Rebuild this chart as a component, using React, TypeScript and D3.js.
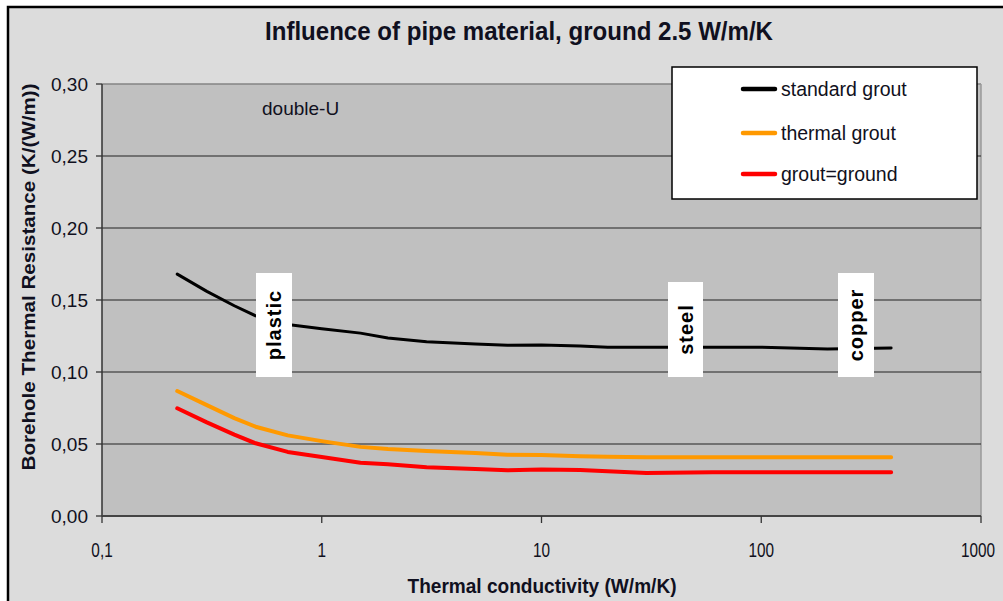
import React from "react";
import * as d3 from "d3";

const conductivity = [0.22, 0.3, 0.4, 0.5, 0.7, 1, 1.5, 2, 3, 5, 7, 10, 15, 20, 30, 60, 100, 150, 200, 390];
const standardGrout = [0.168, 0.156, 0.146, 0.139, 0.133, 0.13, 0.127, 0.1236, 0.121, 0.1195, 0.1185, 0.1188, 0.118, 0.1172, 0.1172, 0.1172, 0.1172, 0.1165, 0.116, 0.1167];
const thermalGrout = [0.0868, 0.077, 0.068, 0.062, 0.056, 0.052, 0.048, 0.0465, 0.0451, 0.0437, 0.0425, 0.0424, 0.0415, 0.0412, 0.0408, 0.0408, 0.0408, 0.0408, 0.0408, 0.0408];
const groutGround = [0.0748, 0.065, 0.0565, 0.0505, 0.0445, 0.041, 0.037, 0.036, 0.0338, 0.0326, 0.0318, 0.0323, 0.032, 0.031, 0.0298, 0.0303, 0.0303, 0.0303, 0.0303, 0.0303];

const seriesNames = ["standard grout", "thermal grout", "grout=ground"];
const seriesColors = ["#000000", "#ff9900", "#ff0000"];
const seriesWidths = [3, 4, 4];
const seriesValues = [standardGrout, thermalGrout, groutGround];

const yTicks = [0, 0.05, 0.1, 0.15, 0.2, 0.25, 0.3];
const xTicks = [0.1, 1, 10, 100, 1000];
const xTickLabels = ["0,1", "1", "10", "100", "1000"];

const materials = ["plastic", "steel", "copper"];

const W = 1003;
const H = 601;
const left = 102;
const right = 981;
const top = 84;
const bottom = 516;

export default function App() {
  const x = d3.scaleLog().domain([0.1, 1000]).range([left, right]);
  const y = d3.scaleLinear().domain([0, 0.3]).range([bottom, top]);
  const fmt = (v: number) => v.toFixed(2).replace(".", ",");
  const line = d3
    .line<number>()
    .x((_, i) => x(conductivity[i]))
    .y((d) => y(d));

  const narrow = "'Liberation Sans Narrow', 'Arial Narrow', 'Liberation Sans', Arial, sans-serif";
  const sans = "'Liberation Sans', Arial, sans-serif";
  const textColor = "#101020";

  const boxes = [
    { cx: 274, cy: 325, h: 104, w: 36 },
    { cx: 685.5, cy: 329.5, h: 95, w: 35 },
    { cx: 856, cy: 325, h: 104, w: 36 },
  ];

  return (
    <svg
      width={W}
      height={H}
      style={{ position: "absolute", left: 0, top: 0, background: "#fff" }}
    >
      <rect x={8} y={7} width={W} height={H} fill="#dcdcdc" stroke="#000" strokeWidth={2.5} />
      <text
        x={519}
        y={40}
        textAnchor="middle"
        fontFamily={narrow}
        fontWeight="bold"
        fontSize={25}
        fill={textColor}
        textLength={508}
        lengthAdjust="spacingAndGlyphs"
      >
        Influence of pipe material, ground 2.5 W/m/K
      </text>

      <rect x={left} y={top} width={right - left} height={bottom - top} fill="#c0c0c0" />
      <line x1={left} x2={right} y1={top} y2={top} stroke="#858585" strokeWidth={1.5} />
      <line x1={right} x2={right} y1={top} y2={bottom} stroke="#9a9a9a" strokeWidth={1.5} />
      {yTicks.slice(1, -1).map((t) => (
        <line key={t} x1={left} x2={right} y1={y(t)} y2={y(t)} stroke="#222" strokeWidth={1.2} />
      ))}

      {/* y axis */}
      <line x1={left} x2={left} y1={top} y2={bottom} stroke="#333" strokeWidth={1.5} />
      {yTicks.map((t) => (
        <g key={t}>
          <line x1={left - 6} x2={left} y1={y(t)} y2={y(t)} stroke="#333" strokeWidth={1.3} />
          <text
            x={88}
            y={y(t)}
            dy="0.36em"
            textAnchor="end"
            fontFamily={sans}
            fontSize={19}
            fill={textColor}
          >
            {fmt(t)}
          </text>
        </g>
      ))}

      {/* x axis */}
      <line x1={left} x2={right} y1={bottom} y2={bottom} stroke="#444" strokeWidth={2} />
      {xTicks.map((t, i) => {
        const last = i === xTicks.length - 1;
        return (
          <g key={t}>
            <line x1={x(t)} x2={x(t)} y1={bottom} y2={bottom + 7} stroke="#333" strokeWidth={1.3} />
            <text
              transform={`translate(${last ? x(t) - 3 : x(t)},557) scale(0.73,1)`}
              textAnchor="middle"
              fontFamily={sans}
              fontSize={21}
              fill={textColor}
            >
              {xTickLabels[i]}
            </text>
          </g>
        );
      })}
      <text
        x={542}
        y={593}
        textAnchor="middle"
        fontFamily={narrow}
        fontWeight="bold"
        fontSize={21}
        fill={textColor}
        textLength={269}
        lengthAdjust="spacingAndGlyphs"
      >
        Thermal conductivity (W/m/K)
      </text>
      <text
        transform="translate(29,277) rotate(-90)"
        x={0}
        y={0}
        dy="0.35em"
        textAnchor="middle"
        fontFamily={sans}
        fontWeight="bold"
        fontSize={18.5}
        fill={textColor}
        textLength={387}
        lengthAdjust="spacingAndGlyphs"
      >
        Borehole Thermal Resistance (K/(W/m))
      </text>

      <text x={262} y={115} fontFamily={sans} fontSize={19} fill={textColor}>
        double-U
      </text>

      {seriesValues.map((vals, i) => (
        <path
          key={seriesNames[i]}
          d={line(vals) || ""}
          fill="none"
          stroke={seriesColors[i]}
          strokeWidth={seriesWidths[i]}
          strokeLinejoin="round"
          strokeLinecap="round"
        />
      ))}

      {materials.map((m, i) => (
        <g key={m}>
          <rect
            x={boxes[i].cx - boxes[i].w / 2}
            y={boxes[i].cy - boxes[i].h / 2}
            width={boxes[i].w}
            height={boxes[i].h}
            fill="#fff"
          />
          <text
            transform={`translate(${boxes[i].cx},${boxes[i].cy}) rotate(-90)`}
            textAnchor="middle"
            dy="0.36em"
            fontFamily={sans}
            fontWeight="bold"
            fontSize={20}
            letterSpacing={1}
            fill="#000"
          >
            {m}
          </text>
        </g>
      ))}

      {/* legend */}
      <rect x={672} y={67} width={305} height={132} fill="#fff" stroke="#000" strokeWidth={1.5} />
      {seriesNames.map((n, i) => {
        const ly = [89, 133, 174][i];
        return (
          <g key={n}>
            <line x1={743} x2={775} y1={ly} y2={ly} stroke={seriesColors[i]} strokeWidth={4.5} strokeLinecap="round" />
            <text x={781} y={ly} dy="0.35em" fontFamily={sans} fontSize={19.5} fill={textColor}>
              {n}
            </text>
          </g>
        );
      })}
    </svg>
  );
}
